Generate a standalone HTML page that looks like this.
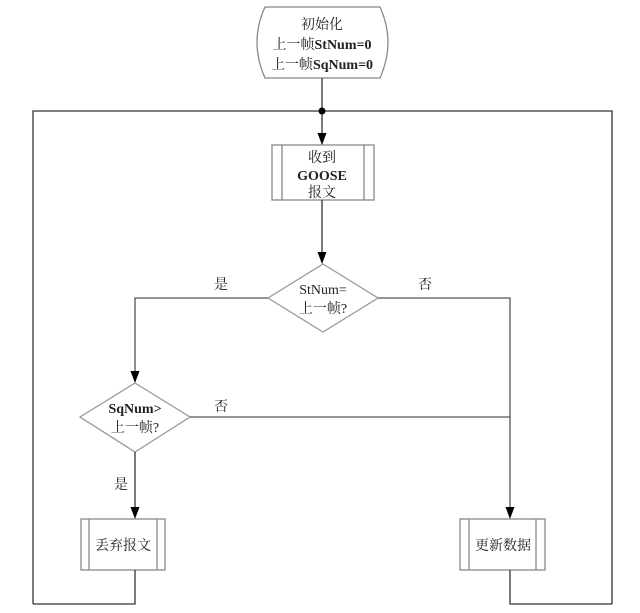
<!DOCTYPE html>
<html><head><meta charset="utf-8"><style>
html,body{margin:0;padding:0;background:#fff;}
svg{display:block;}
text{font-family:"Liberation Serif","Noto Serif CJK SC",serif;font-size:14px;fill:#222;text-anchor:middle;}
.b{font-weight:bold;}
</style></head><body>
<svg width="640" height="613" viewBox="0 0 640 613">
<g fill="none" stroke="#555" stroke-width="1.3">
<path d="M265,7 L380,7 Q396,42 380,78 L265,78 Q249,42 265,7 Z" stroke="#888"/>
<line x1="322" y1="78" x2="322" y2="111" stroke="#333"/>
<polyline points="33,604 33,111 612,111 612,604" stroke="#333"/>
<line x1="322" y1="111" x2="322" y2="135" stroke="#333"/>
<rect x="272" y="145" width="102" height="55" stroke="#888"/>
<line x1="282" y1="145" x2="282" y2="200" stroke="#888"/>
<line x1="364" y1="145" x2="364" y2="200" stroke="#888"/>
<line x1="322" y1="200" x2="322" y2="254" stroke="#333"/>
<polygon points="323,264 378,298 323,332 268,298" stroke="#999"/>
<polyline points="268,298 135,298 135,373" stroke="#555"/>
<polyline points="378,298 510,298 510,509" stroke="#555"/>
<polygon points="135,383 190,417 135,452 80,417" stroke="#999"/>
<line x1="190" y1="417" x2="510" y2="417"/>
<line x1="135" y1="452" x2="135" y2="509" stroke="#333"/>
<rect x="81" y="519" width="84" height="51" stroke="#888"/>
<line x1="89" y1="519" x2="89" y2="570" stroke="#888"/>
<line x1="157" y1="519" x2="157" y2="570" stroke="#888"/>
<rect x="460" y="519" width="85" height="51" stroke="#888"/>
<line x1="469" y1="519" x2="469" y2="570" stroke="#888"/>
<line x1="536" y1="519" x2="536" y2="570" stroke="#888"/>
<polyline points="135,570 135,604 33,604" stroke="#333"/>
<polyline points="510,570 510,604 612,604" stroke="#333"/>
</g>
<g fill="#000">
<polygon points="317.5,133 326.5,133 322,145"/>
<polygon points="317.5,252 326.5,252 322,264"/>
<polygon points="130.5,371 139.5,371 135,383"/>
<polygon points="505.5,507 514.5,507 510,519"/>
<polygon points="130.5,507 139.5,507 135,519"/>
</g>
<circle cx="322" cy="111" r="3.5" fill="#000"/>
<text x="322" y="29">初始化</text>
<text x="322" y="49">上一帧<tspan class="b">StNum=0</tspan></text>
<text x="322" y="69">上一帧<tspan class="b">SqNum=0</tspan></text>
<text x="322" y="162">收到</text>
<text x="322" y="180" class="b">GOOSE</text>
<text x="322" y="197">报文</text>
<text x="323" y="294">StNum=</text>
<text x="323" y="313">上一帧?</text>
<text x="135" y="413" class="b">SqNum&gt;</text>
<text x="135" y="432">上一帧?</text>
<text x="221" y="289">是</text>
<text x="425" y="289">否</text>
<text x="221" y="411">否</text>
<text x="121" y="489">是</text>
<text x="123" y="550">丢弃报文</text>
<text x="503" y="550">更新数据</text>
</svg>
</body></html>
